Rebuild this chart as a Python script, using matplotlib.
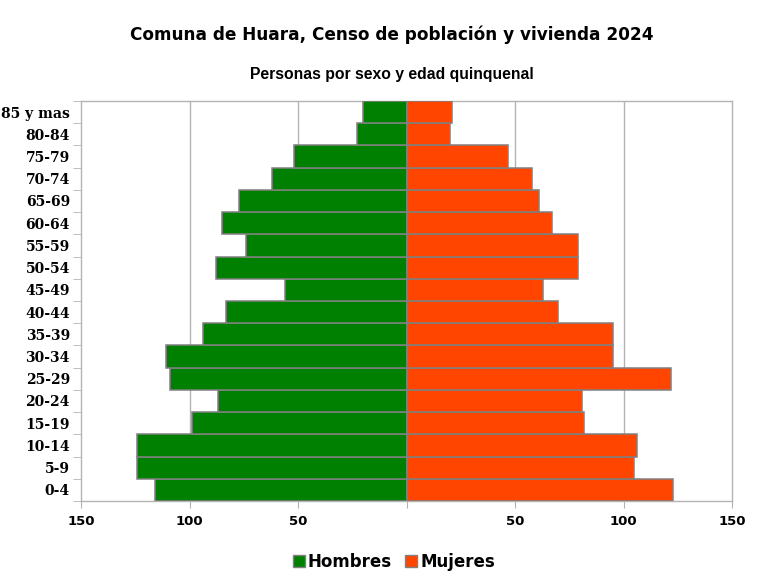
import matplotlib
matplotlib.use("Agg")
import matplotlib.pyplot as plt
from matplotlib.ticker import FixedLocator
from matplotlib.patches import Patch
import numpy as np

categories = ["0-4", "5-9", "10-14", "15-19", "20-24", "25-29", "30-34", "35-39",
              "40-44", "45-49", "50-54", "55-59", "60-64", "65-69", "70-74",
              "75-79", "80-84", "85 y mas"]
hombres = [116, 124, 124, 99, 87, 109, 111, 94, 83, 56, 88, 74, 85, 77, 62, 52, 23, 20]
mujeres = [123, 105, 106, 82, 81, 122, 95, 95, 70, 63, 79, 79, 67, 61, 58, 47, 20, 21]
xticks = [-150, -100, -50, 0, 50, 100, 150]
xticklabels = ["150", "100", "50", "", "50", "100", "150"]

title = "Comuna de Huara, Censo de población y vivienda 2024"
subtitle = "Personas por sexo y edad quinquenal"

GREEN = "#008000"
RED = "#FF4500"
EDGE = "#808080"
GRID = "#B3B3B3"

fig = plt.figure(figsize=(7.83, 5.77), dpi=100)
ax = fig.add_axes([81/783, 76/577, 651/783, 400/577])

y = np.arange(len(categories))
ax.barh(y, [-v for v in hombres], height=1.0, color=GREEN, edgecolor=EDGE, linewidth=1.1, zorder=3)
ax.barh(y, mujeres, height=1.0, color=RED, edgecolor=EDGE, linewidth=1.1, zorder=3)

ax.set_xlim(-150, 150)
ax.set_ylim(-0.5, len(categories) - 0.5)

ax.set_xticks(xticks)
ax.set_xticklabels(xticklabels, fontsize=9.5, fontweight="bold", family="DejaVu Sans")
ax.tick_params(axis="x", length=5, color=GRID, pad=5)

ax.set_yticks(y)
ax.set_yticklabels(categories, fontsize=10, fontweight="bold", family="DejaVu Serif")
ax.tick_params(axis="y", which="major", length=0, pad=8)
ax.yaxis.set_minor_locator(FixedLocator(np.arange(-0.5, len(categories), 1.0)))
ax.tick_params(axis="y", which="minor", length=6, color=GRID)

for v in [-100, -50, 50, 100]:
    ax.axvline(v, color=GRID, linewidth=1.0, zorder=1)

for s in ax.spines.values():
    s.set_color(GRID)
    s.set_linewidth(1.0)

fig.text(0.5, 1 - 35/577, title, ha="center", va="center", fontsize=12.2, fontweight="bold")
fig.text(0.5, 1 - 75/577, subtitle, ha="center", va="center", fontsize=11.3, fontweight="bold",
         family="Liberation Sans")

handles = [Patch(facecolor=GREEN, edgecolor=EDGE, label="Hombres"),
           Patch(facecolor=RED, edgecolor=EDGE, label="Mujeres")]
fig.legend(handles=handles, loc="center", bbox_to_anchor=(394/783, 1 - 562/577), ncol=2,
           frameon=False, prop={"weight": "bold", "size": 12}, handlelength=0.7,
           handleheight=0.7, handletextpad=0.2, columnspacing=0.8)

fig.savefig("out.png", dpi=100)
